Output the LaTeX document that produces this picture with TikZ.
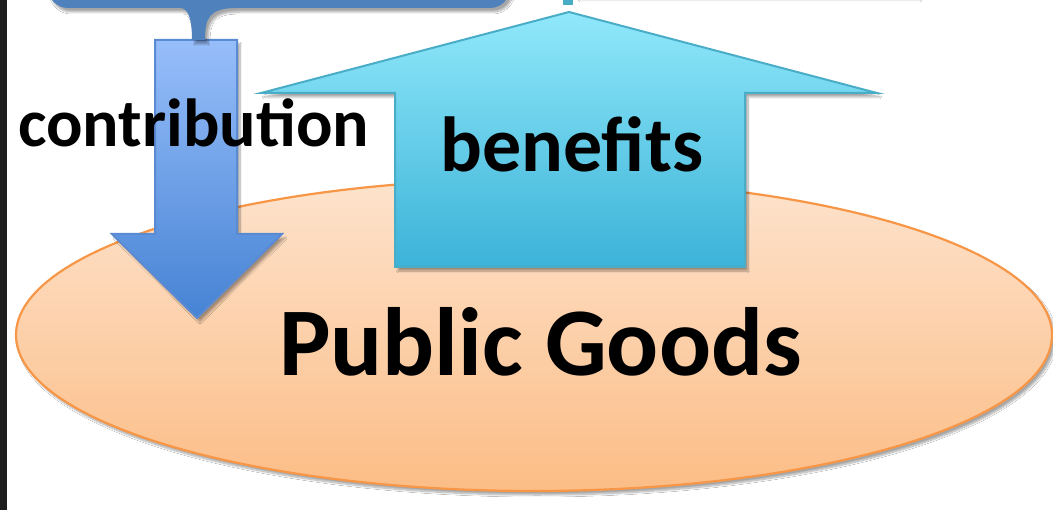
\documentclass[tikz,border=0pt]{standalone}
\usepackage{fontspec}
\setmainfont{Carlito}
\usetikzlibrary{shapes.geometric,shadows.blur,positioning}

\definecolor{bandblue}{HTML}{4F81BD}
\definecolor{downtop}{HTML}{97BEFA}
\definecolor{downbot}{HTML}{4683D4}
\definecolor{downline}{HTML}{5A8BD2}
\definecolor{uptop}{HTML}{90E8FA}
\definecolor{upbot}{HTML}{3CB3D8}
\definecolor{upline}{HTML}{4AADC8}
\definecolor{peachtop}{HTML}{FDE3CD}
\definecolor{peachbot}{HTML}{FCBD86}
\definecolor{peachline}{HTML}{F79646}
\definecolor{edgedark}{HTML}{1E1E1E}

\tikzset{
  softshadow/.style={blur shadow={shadow xshift=3pt,shadow yshift=-4pt,
      shadow blur steps=10,shadow opacity=35}},
  word/.style={font=\bfseries, inner sep=0pt, anchor=base west},
}

\begin{document}
\begin{tikzpicture}[x=1pt,y=-1pt]
  \clip (0,0) rectangle (1053,510);
  \fill[white] (0,0) rectangle (1053,510);
  \fill[edgedark] (0,0) rectangle (7,510);

  % boxes above the frame, only their bottoms show
  \fill[white, blur shadow={shadow xshift=2pt,shadow yshift=-3pt,
      shadow blur steps=8,shadow opacity=20}] (578,-60) rectangle (918,-3);
  \fill[upline] (563,-5) rectangle (573,5);

  % the common pool
  \node[ellipse, draw=peachline, line width=2.2pt, top color=peachtop,
        bottom color=peachbot, minimum width=1036pt, minimum height=312pt,
        inner sep=0pt, softshadow] (goods) at (534,335) {};

  % benefits going up
  \coordinate (uptip) at (569,12);
  \fill[top color=uptop, bottom color=upbot, draw=upline, line width=2pt,
        softshadow]
    (uptip) -- (877,93) -- (745,93) -- (745,267) -- (395,267) -- (395,93)
    -- (261,93) -- cycle;

  % contribution going down
  \coordinate (downtip) at (197,318);
  \fill[top color=downtop, bottom color=downbot, draw=downline, line width=2pt,
        softshadow]
    (155,40) -- (237,40) -- (237,234) -- (282,234) -- (downtip)
    -- (112,234) -- (155,234) -- cycle;

  % group box with its brace
  \fill[bandblue, softshadow, rounded corners=20pt]
    (48,-60) |- (160,8) [sharp corners] .. controls (188,8) and (192,18) .. (192,40)
    -- (205,40) .. controls (205,18) and (209,8) .. (237,8)
    [rounded corners=20pt] -| (510,-60) -- cycle;

  \node[word, font=\bfseries\fontsize{68}{68}\selectfont] (contrib) at (18,147) {contribution};
  \node[word, font=\bfseries\fontsize{78}{78}\selectfont] (benefit) at (440,172) {benefits};
  \node[word, font=\bfseries\fontsize{97}{97}\selectfont] (label) at (279,376) {Public Goods};
\end{tikzpicture}
\end{document}
